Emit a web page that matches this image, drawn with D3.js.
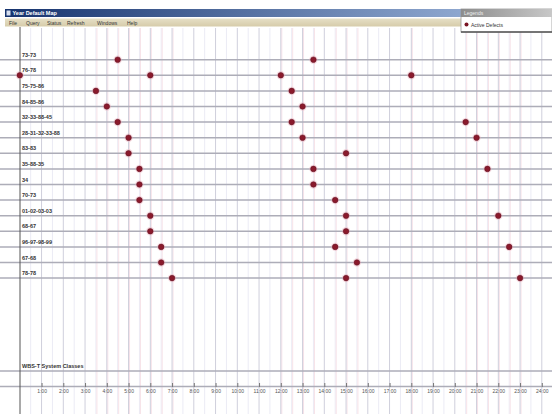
<!DOCTYPE html>
<html>
<head>
<meta charset="utf-8">
<script src="https://cdn.jsdelivr.net/npm/d3@7"></script>
<style>
  body { margin: 0; background: #fff; }
  svg { display: block; font-family: "Liberation Sans", Arial, sans-serif; }
</style>
</head>
<body>
<script>
// row labels (top to bottom)
let rowLabels = ["73-73", "76-78", "75-75-86", "84-85-86", "32-33-88-45", "28-31-32-33-88", "83-83",
    "35-88-35", "34", "70-73", "01-02-03-03", "68-67", "96-97-98-99", "67-68", "78-78"];
// defect times (hours) for each row
let defectHours = [
    [4.5, 13.5],
    [0, 6, 12, 18],
    [3.5, 12.5],
    [4, 13],
    [4.5, 12.5, 20.5],
    [5, 13, 21],
    [5, 15],
    [5.5, 13.5, 21.5],
    [5.5, 13.5],
    [5.5, 14.5],
    [6, 15, 22],
    [6, 15],
    [6.5, 14.5, 22.5],
    [6.5, 15.5],
    [7, 15, 23]
];
let tickHours = d3.range(1, 25);
let menuItems = ["File", "Query", "Status", "Refresh", "Windows", "Help"];
let menuX = [9, 26, 47, 67, 97, 127];
let legendLabel = "Active Defects";
let groupLabel = "WBS-T System Classes";

let w = 552, h = 414;

const svg = d3.select("body").append("svg")
    .attr("width", w)
    .attr("height", h);

const xScale = d3.scaleLinear().domain([0, 24]).range([19.8, 541.8]);
const yScale = d3.scalePoint().domain(rowLabels).range([59.7, 278.1]);

// minor grid (half hours)
svg.append("g").selectAll("line")
    .data(d3.range(0.5, 24.5, 1))
    .enter().append("line")
    .attr("x1", d => xScale(d)).attr("x2", d => xScale(d))
    .attr("y1", 28).attr("y2", h)
    .attr("stroke", "#ebebf5");

// faint pink lines at defect columns
let cols = Array.from(new Set(defectHours.flat())).filter(d => d > 0);
svg.append("g").selectAll("line")
    .data(cols)
    .enter().append("line")
    .attr("x1", d => xScale(d) + 1).attr("x2", d => xScale(d) + 1)
    .attr("y1", 28).attr("y2", h)
    .attr("stroke", "#f7e2e8");

// major grid (hours)
svg.append("g").selectAll("line")
    .data(tickHours)
    .enter().append("line")
    .attr("x1", d => xScale(d)).attr("x2", d => xScale(d))
    .attr("y1", 28).attr("y2", h)
    .attr("stroke", "#cfcfdc");

// row lines
svg.append("g").selectAll("line")
    .data(rowLabels)
    .enter().append("line")
    .attr("x1", 0).attr("x2", w)
    .attr("y1", d => yScale(d)).attr("y2", d => yScale(d))
    .attr("stroke", "#adadb8")
    .attr("stroke-width", 1.5);

// group line + axis line
svg.append("line").attr("x1", 0).attr("x2", w).attr("y1", 371).attr("y2", 371)
    .attr("stroke", "#adadb8").attr("stroke-width", 1.5);
svg.append("line").attr("x1", 0).attr("x2", w).attr("y1", 386.5).attr("y2", 386.5)
    .attr("stroke", "#adadb8").attr("stroke-width", 1.5);

// left axis line
svg.append("line").attr("x1", 20).attr("x2", 20).attr("y1", 27).attr("y2", h)
    .attr("stroke", "#555").attr("stroke-width", 1);

// row labels
svg.append("g").selectAll("text")
    .data(rowLabels)
    .enter().append("text")
    .attr("x", 22)
    .attr("y", d => yScale(d) - 3)
    .text(d => d)
    .style("font-size", "5.5px")
    .style("font-weight", "bold")
    .attr("fill", "#333");

svg.append("text")
    .attr("x", 22).attr("y", 368)
    .text(groupLabel)
    .style("font-size", "5.5px")
    .style("font-weight", "bold")
    .attr("fill", "#333");

// x axis
const xAxis = d3.axisBottom(xScale)
    .tickValues(tickHours)
    .tickSize(4)
    .tickFormat(d => d + ":00");

svg.append("g")
    .attr("transform", "translate(0, 383)")
    .call(xAxis)
    .call(g => g.select(".domain").remove())
    .call(g => g.selectAll("line").attr("stroke", "#777"))
    .call(g => g.selectAll("text").attr("fill", "#555").attr("dy", "0.55em")
        .style("font-size", "5px").style("font-family", "Liberation Sans, Arial, sans-serif"));

// dots
let points = [];
defectHours.forEach((hrs, i) => hrs.forEach(v => points.push({ row: rowLabels[i], hour: v })));

svg.append("g").selectAll("circle")
    .data(points)
    .enter().append("circle")
    .attr("cx", d => xScale(d.hour))
    .attr("cy", d => yScale(d.row))
    .attr("r", 4.2)
    .attr("fill", "#eab0bd")
    .attr("opacity", 0.45);

svg.append("g").selectAll("circle")
    .data(points)
    .enter().append("circle")
    .attr("cx", d => xScale(d.hour))
    .attr("cy", d => yScale(d.row))
    .attr("r", 2.8)
    .attr("fill", "#8a1a2c")
    .attr("stroke", "#5e1020")
    .attr("stroke-width", 0.5);

// window chrome: title bar
const defs = svg.append("defs");
let tg = defs.append("linearGradient").attr("id", "titleGrad");
tg.append("stop").attr("offset", "0%").attr("stop-color", "#16336e");
tg.append("stop").attr("offset", "100%").attr("stop-color", "#8ea7cf");
let mg = defs.append("linearGradient").attr("id", "menuGrad").attr("x2", 0).attr("y2", 1);
mg.append("stop").attr("offset", "0%").attr("stop-color", "#e6dfc6");
mg.append("stop").attr("offset", "100%").attr("stop-color", "#d6ccaa");
let lg = defs.append("linearGradient").attr("id", "legGrad");
lg.append("stop").attr("offset", "0%").attr("stop-color", "#8c8c8c");
lg.append("stop").attr("offset", "100%").attr("stop-color", "#c8c8c8");

svg.append("rect").attr("x", 5).attr("y", 9).attr("width", 456).attr("height", 8)
    .attr("fill", "url(#titleGrad)");
svg.append("rect").attr("x", 6.5).attr("y", 10.5).attr("width", 4).attr("height", 5)
    .attr("fill", "#d8e0f0");
svg.append("text").attr("x", 12.5).attr("y", 15.3)
    .text("Year Default Map")
    .style("font-size", "5.5px").style("font-weight", "bold").attr("fill", "#fff");

svg.append("rect").attr("x", 5).attr("y", 18.5).attr("width", 456).attr("height", 8)
    .attr("fill", "url(#menuGrad)");
svg.append("g").selectAll("text")
    .data(menuItems)
    .enter().append("text")
    .attr("x", (d, i) => menuX[i])
    .attr("y", 24.5)
    .text(d => d)
    .style("font-size", "5px")
    .attr("fill", "#333");

// legend window
svg.append("rect").attr("x", 461).attr("y", 9).attr("width", 91).attr("height", 23)
    .attr("fill", "#fff").attr("stroke", "#9a9a9a").attr("stroke-width", 0.8);
svg.append("rect").attr("x", 461).attr("y", 9).attr("width", 91).attr("height", 8)
    .attr("fill", "url(#legGrad)");
svg.append("text").attr("x", 464).attr("y", 15)
    .text("Legends")
    .style("font-size", "5px").attr("fill", "#eee");
svg.append("line").attr("x1", 461).attr("x2", w).attr("y1", 32).attr("y2", 32)
    .attr("stroke", "#555").attr("stroke-width", 1.5);
svg.append("circle").attr("cx", 466.5).attr("cy", 24.5).attr("r", 2)
    .attr("fill", "#7a1424");
svg.append("text").attr("x", 471).attr("y", 26.5)
    .text(legendLabel)
    .style("font-size", "5px").attr("fill", "#333");
</script>
</body>
</html>
